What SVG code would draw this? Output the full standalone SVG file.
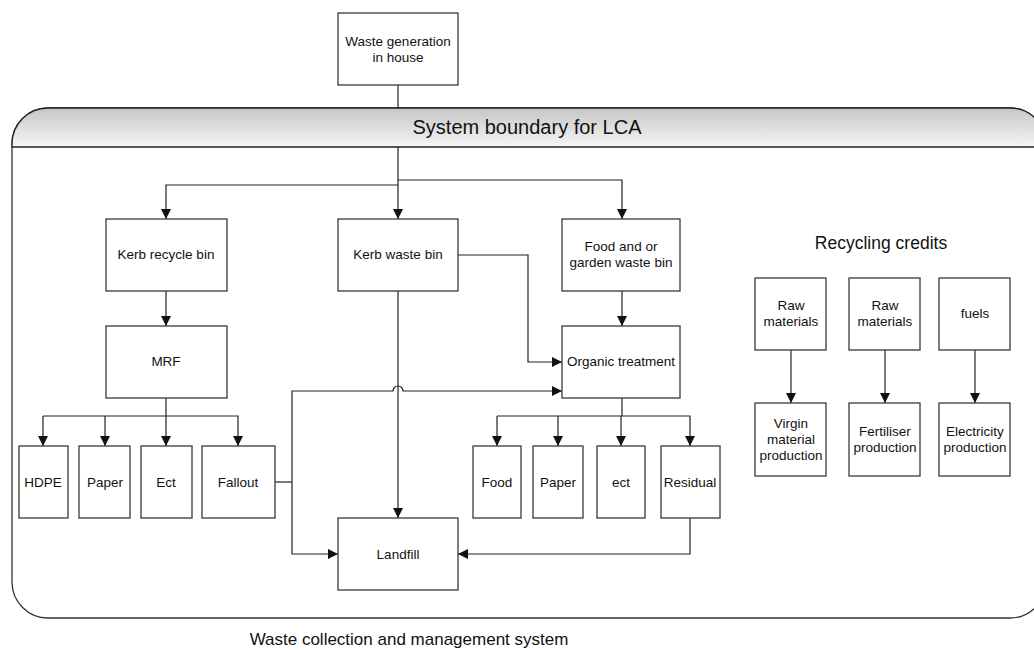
<svg xmlns="http://www.w3.org/2000/svg" width="1034" height="650" viewBox="0 0 1034 650">
<style>
.box{fill:#fff;stroke:#3a3a3a;stroke-width:1.3}
.t{font-family:"Liberation Sans",Arial,sans-serif;font-size:13.5px;fill:#111;text-anchor:middle}
.big{font-family:"Liberation Sans",Arial,sans-serif;fill:#111;text-anchor:middle}
.c{fill:none;stroke:#222;stroke-width:1.2}
.ca{fill:none;stroke:#222;stroke-width:1.2;marker-end:url(#ah)}
</style>
<defs>
<linearGradient id="hg" x1="0" y1="0" x2="0" y2="1">
<stop offset="0" stop-color="#c6c6c6"/>
<stop offset="1" stop-color="#f6f6f6"/>
</linearGradient>
<marker id="ah" markerUnits="userSpaceOnUse" markerWidth="10" markerHeight="10" viewBox="0 0 10 10" refX="10" refY="5" orient="auto">
<path d="M0,0 L10,5 L0,10 z" fill="#111"/>
</marker>
</defs>
<rect width="1034" height="650" fill="#fff"/>
<g id="boundary">
<rect x="12" y="108" width="1034" height="510" rx="36" ry="36" fill="#fff" stroke="#333" stroke-width="1.3"/>
<path d="M12,147 V144 A36,36 0 0 1 48,108 H1010 A36,36 0 0 1 1046,144 V147 Z" fill="url(#hg)" stroke="#222" stroke-width="1.3"/>
<text class="big" x="527" y="134" font-size="20">System boundary for LCA</text>
</g>
<g id="connectors">
<path class="c" d="M398,85 V108"/>
<path class="ca" d="M398,147 V219"/>
<path class="ca" d="M398,185 H166 V219"/>
<path class="ca" d="M398,180 H622 V219"/>
<path class="ca" d="M166,291 V326"/>
<path class="ca" d="M622,291 V326"/>
<path class="ca" d="M458,255 H528 V362 H562"/>
<path class="ca" d="M398,291 V518"/>
<path class="c" d="M275,482 H292"/>
<path class="ca" d="M292,482 V554 H338"/>
<path class="ca" d="M292,482 V391 H393 A5,5 0 0 1 403,391 H562"/>
<path class="c" d="M166,398 V416"/>
<path class="ca" d="M43,416 H238 V446"/>
<path class="ca" d="M43,416 V446"/>
<path class="ca" d="M105,416 V446"/>
<path class="ca" d="M166,416 V446"/>
<path class="c" d="M622,398 V416"/>
<path class="ca" d="M497,416 H690 V446"/>
<path class="ca" d="M497,416 V446"/>
<path class="ca" d="M558,416 V446"/>
<path class="ca" d="M621,416 V446"/>
<path class="ca" d="M690,518 V554 H458"/>
<path class="ca" d="M791,350 V403"/>
<path class="ca" d="M885,350 V403"/>
<path class="ca" d="M975,350 V403"/>
</g>
<g id="n-waste-gen"><rect class="box" x="338" y="13" width="120" height="72"/><text class="t" x="398" y="46">Waste generation</text><text class="t" x="398" y="62">in house</text></g>
<g id="n-kerb-recycle"><rect class="box" x="106" y="219" width="121" height="72"/><text class="t" x="166" y="259">Kerb recycle bin</text></g>
<g id="n-kerb-waste"><rect class="box" x="338" y="219" width="120" height="72"/><text class="t" x="398" y="259">Kerb waste bin</text></g>
<g id="n-food-garden"><rect class="box" x="562" y="219" width="118" height="72"/><text class="t" x="621" y="251">Food and or</text><text class="t" x="621" y="267">garden waste bin</text></g>
<g id="n-mrf"><rect class="box" x="106" y="326" width="121" height="72"/><text class="t" x="166" y="366">MRF</text></g>
<g id="n-organic"><rect class="box" x="562" y="326" width="118" height="72"/><text class="t" x="621" y="366">Organic treatment</text></g>
<g id="n-hdpe"><rect class="box" x="19" y="446" width="49" height="72"/><text class="t" x="43" y="487">HDPE</text></g>
<g id="n-paper1"><rect class="box" x="79" y="446" width="51" height="72"/><text class="t" x="105" y="487">Paper</text></g>
<g id="n-ect1"><rect class="box" x="141" y="446" width="51" height="72"/><text class="t" x="166" y="487">Ect</text></g>
<g id="n-fallout"><rect class="box" x="202" y="446" width="73" height="72"/><text class="t" x="238" y="487">Fallout</text></g>
<g id="n-landfill"><rect class="box" x="338" y="518" width="120" height="72"/><text class="t" x="398" y="559">Landfill</text></g>
<g id="n-food"><rect class="box" x="473" y="446" width="48" height="72"/><text class="t" x="497" y="487">Food</text></g>
<g id="n-paper2"><rect class="box" x="533" y="446" width="50" height="72"/><text class="t" x="558" y="487">Paper</text></g>
<g id="n-ect2"><rect class="box" x="597" y="446" width="48" height="72"/><text class="t" x="621" y="487">ect</text></g>
<g id="n-residual"><rect class="box" x="661" y="446" width="59" height="72"/><text class="t" x="690" y="487">Residual</text></g>
<g id="n-recycling-credits"><text class="big" x="881" y="249" font-size="17.5">Recycling credits</text></g>
<g id="n-raw1"><rect class="box" x="755" y="278" width="71" height="72"/><text class="t" x="791" y="310">Raw</text><text class="t" x="791" y="326">materials</text></g>
<g id="n-raw2"><rect class="box" x="849" y="278" width="71" height="72"/><text class="t" x="885" y="310">Raw</text><text class="t" x="885" y="326">materials</text></g>
<g id="n-fuels"><rect class="box" x="939" y="278" width="71" height="72"/><text class="t" x="975" y="318">fuels</text></g>
<g id="n-virgin"><rect class="box" x="755" y="403" width="71" height="73"/><text class="t" x="791" y="428">Virgin</text><text class="t" x="791" y="444">material</text><text class="t" x="791" y="460">production</text></g>
<g id="n-fertiliser"><rect class="box" x="849" y="403" width="71" height="73"/><text class="t" x="885" y="436">Fertiliser</text><text class="t" x="885" y="452">production</text></g>
<g id="n-electricity"><rect class="box" x="939" y="403" width="71" height="73"/><text class="t" x="975" y="436">Electricity</text><text class="t" x="975" y="452">production</text></g>
<g id="footer"><text class="big" x="409" y="645" font-size="17">Waste collection and management system</text></g>
</svg>
